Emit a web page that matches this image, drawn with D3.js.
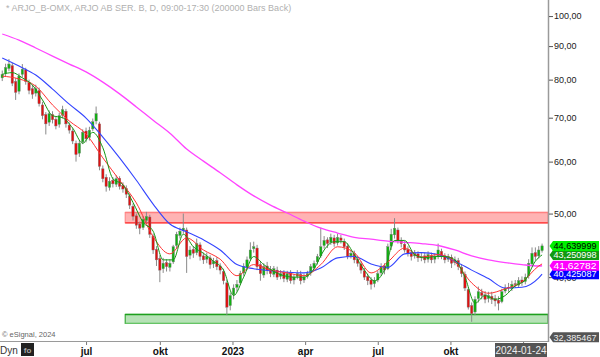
<!DOCTYPE html>
<html><head><meta charset="utf-8">
<script src="https://cdn.jsdelivr.net/npm/d3@7"></script>
<style>body{margin:0;background:#fff}svg{display:block}text{font-family:"Liberation Sans",Arial,sans-serif}</style>
</head><body><svg id="c" width="600" height="357"></svg>
<script>
// ---------- DATA ----------
const title = "* ARJO_B-OMX, ARJO AB SER. B, D, 09:00-17:30 (200000 Bars Back)";
const firstDay = new Date(2022, 2, 16), lastDay = new Date(2024, 0, 24);
const barStep = 3; // weekdays per candle

const opens = [80.5,81.8,83.2,84.0,79.5,76.8,81.5,82.8,79.2,77.5,
 76.3,77.0,73.2,70.8,68.9,70.8,69.6,68.4,70.6,71.6,
 68.2,66.8,64.0,61.8,64.3,66.8,65.3,67.3,69.2,68.5,
 58.5,56.8,54.8,56.2,55.4,56.6,55.2,54.6,53.2,51.3,
 49.6,48.2,47.6,48.8,49.4,46.2,44.1,42.7,41.2,42.1,
 41.4,42.2,44.7,46.3,47.1,47.2,43.2,44.1,43.6,44.8,
 43.1,42.6,42.8,41.9,42.4,41.6,40.8,39.2,36.2,37.6,
 38.6,39.2,40.6,41.4,42.7,44.2,44.3,41.8,40.3,41.6,
 41.1,40.4,41.0,40.1,40.6,39.7,40.6,39.6,40.1,40.4,
 39.6,40.1,40.6,41.3,42.2,43.1,44.7,45.6,45.2,45.9,
 45.1,45.9,45.3,44.6,43.1,43.4,42.6,41.9,40.9,40.1,
 39.6,39.1,39.6,40.6,41.6,41.2,44.6,46.4,47.2,45.4,
 44.9,44.1,43.6,43.1,43.4,42.9,43.1,42.6,43.1,42.6,
 43.1,43.8,43.1,42.6,42.9,42.1,42.4,41.4,40.4,38.3,
 36.2,35.4,37.1,37.9,37.6,37.1,37.4,37.1,36.9,36.7,
 38.1,38.6,38.4,39.1,38.9,39.6,39.4,40.2,41.9,43.6,
 43.1,43.9];
const highs = [82.6,84.6,86.0,84.8,80.4,81.8,84.5,83.4,80.0,78.6,
 78.6,77.8,74.0,71.4,71.8,71.6,70.2,71.2,73.0,72.2,
 68.8,67.4,64.6,64.8,67.2,67.6,67.8,69.8,72.8,69.0,
 59.2,57.4,56.8,56.8,57.2,57.0,55.8,55.2,53.6,51.8,
 50.0,48.6,49.6,50.3,49.8,46.6,44.6,43.2,42.8,42.6,
 42.6,44.8,46.9,47.6,50.0,47.6,44.6,44.6,45.8,45.2,
 43.6,43.6,43.2,42.8,42.9,42.0,41.2,39.6,37.9,39.0,
 39.6,40.9,42.0,43.0,45.2,45.3,44.8,42.2,42.0,42.2,
 41.6,41.6,41.5,41.0,41.0,40.9,41.0,40.4,41.0,40.9,
 40.5,40.9,41.9,42.4,43.4,47.6,46.2,46.0,46.6,46.4,
 46.6,46.4,45.8,45.0,44.0,43.9,43.0,42.3,41.3,40.5,
 40.0,40.0,40.9,42.0,42.0,45.0,47.4,49.2,47.6,46.0,
 45.4,44.6,44.0,44.0,43.8,43.6,43.6,43.8,43.6,43.5,
 45.0,44.2,43.5,43.4,43.3,43.0,42.8,41.9,40.8,38.6,
 36.6,37.4,38.7,38.4,38.1,38.0,38.0,37.6,37.4,38.4,
 39.0,39.2,39.5,39.6,40.0,40.1,40.5,42.6,44.4,44.4,
 44.6,45.0];
const lows = [79.6,81.0,82.4,78.2,74.5,76.0,80.6,78.6,76.0,74.8,
 75.4,72.8,69.6,66.0,68.0,68.6,67.2,67.6,69.8,67.6,
 66.2,63.8,60.0,61.0,63.8,64.2,64.6,66.8,68.4,58.2,
 55.8,54.0,54.2,54.8,54.9,54.4,53.8,52.8,50.8,48.8,
 47.4,46.5,47.2,48.2,45.9,43.4,41.6,39.3,40.6,40.8,
 40.8,41.9,44.2,45.8,46.6,40.6,42.6,42.8,43.2,42.4,
 41.9,42.0,41.2,41.3,41.0,40.4,39.0,35.0,35.6,37.0,
 38.0,38.9,40.2,41.0,42.4,43.6,41.0,39.5,39.9,40.4,
 40.0,40.0,39.6,39.7,39.3,39.3,39.1,39.0,39.7,39.0,
 39.2,39.8,40.2,40.9,41.8,42.8,44.2,44.3,44.8,44.5,
 44.7,45.0,44.0,42.6,42.7,42.0,41.5,40.5,39.6,38.9,
 38.3,38.6,39.3,40.2,40.4,41.0,44.0,45.8,45.0,44.4,
 43.6,43.0,42.4,42.7,42.2,42.3,42.0,42.1,42.0,42.0,
 42.6,42.6,42.0,42.2,41.3,41.7,41.0,40.0,38.1,35.7,
 34.2,35.0,36.6,37.0,36.5,36.6,36.4,36.1,35.6,36.5,
 37.8,38.0,38.1,38.5,38.6,38.8,39.0,39.8,41.6,42.4,
 42.7,43.6];
const closes = [81.5,83.5,84.5,79,76.5,81,83,79.5,77,76,
 77.5,73.5,70.5,68.5,71,69.5,68,70.5,72,68.5,
 67,64.5,61.5,64,66.5,65,67,69,71,59,
 56.5,55,56,55.5,56.5,55,54.5,53.5,51.5,49.5,
 48,47.5,49,49.5,46.5,44,42.5,41,42,41.5,
 42,44.5,46.5,47,47.5,43,44,43.5,45,43,
 42.5,43,41.8,42.3,41.5,41,39.5,36,37.5,38.5,
 39,40.5,41.5,42.5,44,44.5,41.5,40.5,41.5,41,
 40.5,41.2,40,40.5,39.8,40.5,39.5,40,40.5,39.5,
 40,40.5,41.5,42,43,44.5,45.5,45,46,45,
 46,45.5,44.5,43,43.5,42.5,42,41,40,39.5,
 39,39.5,40.5,41.5,41,44.5,46.5,47.5,45.5,45,
 44,43.5,43,43.5,42.8,43,42.5,43.3,42.5,43,
 44,43,42.5,43,42,42.5,41.5,40.5,38.5,36,
 35.2,37,38,37.5,37,37.5,37,36.8,36.5,38,
 38.5,38.5,39,39,39.5,39.3,40,42,43.5,43,
 44,44.64];

const ma200 = [93.9,91.9,89.4,86.9,84.5,82.2,79.3,76.1,72.7,69.4,66.3,62.7,60.1,57.7,55.3,53.2,51.5,50.1,48.7,47.5,46.7,46.0,45.7,45.4,45.2,45.0,44.7,44.0,43.1,42.5,42.1,41.8,41.6,41.63];
const ma50 = [86.3,83.9,81.3,77.4,73.4,69.9,65.4,60.8,56.2,51.7,48.2,46.9,45.6,44.0,41.8,41.2,40.9,40.7,40.6,41.3,42.8,43.0,41.9,41.4,43.4,43.6,43.3,42.3,41.0,39.8,38.5,38.6,39.9,40.43];
const ma20 = [81.0,80.2,78.2,73.2,69.2,66.1,60.8,56.2,51.9,46.1,43.4,45.9,44.0,42.6,40.2,41.8,41.0,40.6,40.2,41.8,44.5,43.6,40.6,42.2,44.3,42.9,43.3,42.2,39.2,37.8,38.4,39.3,41.6,41.9];
// short average (sampled every 3 candles, plus the last)
const ma5 = [81.5,82,80.5,78.5,74.5,70.5,70,67.5,64,66.5,63,56.5,55.3,52,48.5,47,42.5,42.5,46.5,44.5,43.5,42.3,41,37.5,40,43,41.8,40.8,40.2,40,40,41.2,44,45.3,45.3,43.3,41,39.5,41,45.5,45.5,43.3,42.8,43,43,42.5,40,36.5,37.5,37,37.5,38.8,39.6,42.3,43.25];

const yTickValues = [40,50,60,70,80,90,100];
const xTickDates = [new Date(2022,6,1),new Date(2022,9,1),new Date(2023,0,1),new Date(2023,3,1),new Date(2023,6,1),new Date(2023,9,1),new Date(2024,0,1)];
const xTickLabels = ["jul","okt","2023","apr","jul","okt",""];
const zoneLow = [48.4, 34.0], zoneHigh = [50.2, 35.1];
const zoneStart = new Date(2022,7,19);
const lastValues = [44.639999, 43.250998, 41.62782, 40.425087];
const bottomValue = 32.385467;
const lastDateText = "2024-01-24";

// ---------- CHART ----------
const svg = d3.select("#c");
const W = 548, H = 341;
svg.append("rect").attr("width",600).attr("height",357).attr("fill","#fff");

const weekdays = d3.timeDay.range(firstDay, d3.timeDay.offset(lastDay,1)).filter(d => d.getDay()%6 !== 0);
const n = closes.length;
const barDay = d3.range(n).map(i => weekdays.length-1 - barStep*(n-1-i));
const x = d3.scaleLinear().domain([0, 490.3]).range([0, W]);
const y = d3.scaleLog().domain([31.97, 105.8]).range([H, 0]);
const fmt = d3.formatLocale({decimal:",",thousands:" ",grouping:[3],currency:["",""]}).format(".2f");

const g = svg.append("g");
// zones
const zx0 = x(d3.bisectLeft(weekdays, zoneStart));
const zoneFill = ["#ffb3b3","#b6e2b6"], zoneTop=["#ff8080","#1ea01e"], zoneBot=["#ff3030","#66c466"];
zoneLow.forEach((lo,k)=>{
  const hi = zoneHigh[k];
  g.append("rect").attr("x",zx0).attr("y",y(hi)).attr("width",W-zx0).attr("height",y(lo)-y(hi))
   .attr("fill",zoneFill[k]).attr("stroke",zoneTop[k]).attr("stroke-width",1);
  g.append("line").attr("x1",zx0).attr("x2",W).attr("y1",y(hi)).attr("y2",y(hi)).attr("stroke",zoneTop[k]).attr("stroke-width",1.5);
  g.append("line").attr("x1",zx0).attr("x2",W).attr("y1",y(lo)).attr("y2",y(lo)).attr("stroke",zoneBot[k]).attr("stroke-width",1.2);
});

// candles
const cg = g.append("g");
d3.range(n).forEach(i=>{
  const cx = x(barDay[i]);
  cg.append("line").attr("x1",cx).attr("x2",cx).attr("y1",y(highs[i])).attr("y2",y(lows[i]))
    .attr("stroke","#8a8a8a").attr("stroke-width",1);
  const top = y(Math.max(opens[i],closes[i])), bot = y(Math.min(opens[i],closes[i]));
  cg.append("rect").attr("x",cx-1.2).attr("width",2.4).attr("y",top).attr("height",Math.max(1,bot-top))
    .attr("fill", closes[i]>=opens[i] ? "#10b010" : "#e01010").attr("stroke","#7a7a7a").attr("stroke-width",0.4);
});

// lines
const idx5 = d3.range(0, n-1, 5).concat([n-1]);
const idx3 = d3.range(0, n-1, 3).concat([n-1]);
const line = d3.line().x(d=>x(barDay[d[0]])).y(d=>y(d[1])).curve(d3.curveMonotoneX);
const series = [[ma200, idx5, "#ff44ff", 1.3],[ma50, idx5, "#3344ff", 1.1],[ma20, idx5, "#ff3333", 1],[ma5, idx3, "#159915", 1]];
series.forEach(([vals, idx, col, w])=>{
  g.append("path").attr("d", line(vals.map((v,k)=>[idx[k], v]))).attr("fill","none").attr("stroke",col).attr("stroke-width",w);
});

// frame
svg.append("line").attr("x1",W+0.5).attr("x2",W+0.5).attr("y1",0).attr("y2",H+1).attr("stroke","#9a9a9a").attr("stroke-width",1.5);
svg.append("line").attr("x1",0).attr("x2",W+1).attr("y1",H+0.5).attr("y2",H+0.5).attr("stroke","#9a9a9a").attr("stroke-width",1.2);

// y axis
const ya = svg.append("g").attr("transform",`translate(${W+1},0)`)
  .call(d3.axisRight(y).tickValues(yTickValues).tickFormat(fmt).tickSize(4).tickPadding(1));
ya.select(".domain").remove();
ya.selectAll(".tick line").attr("stroke","#555");
ya.selectAll("text").attr("font-size",9).attr("fill","#222").attr("font-family","Liberation Sans, Arial, sans-serif");

// x axis
const xa = svg.append("g").attr("transform",`translate(0,${H+1})`)
  .call(d3.axisBottom(x).tickValues(xTickDates.map(d=>d3.bisectLeft(weekdays,d))).tickFormat((d,i)=>xTickLabels[i]).tickSize(3).tickPadding(3));
xa.select(".domain").remove();
xa.selectAll(".tick line").attr("stroke","#777");
xa.selectAll("text").attr("font-size",10).attr("font-weight","bold").attr("fill","#111").attr("font-family","Liberation Sans, Arial, sans-serif");

// value labels
const lblFill = ["#00f000","#129912","#ff00ff","#0000ff"], lblText = ["#000","#fff","#fff","#fff"];
function tag(v, fill, tc){
  const cy = y(v);
  const gg = svg.append("g");
  gg.append("path").attr("d",`M${W+1.5},${cy} L${W+5},${cy-5} L599,${cy-5} L599,${cy+5} L${W+5},${cy+5} Z`).attr("fill",fill);
  gg.append("text").attr("x",W+5.5).attr("y",cy+3.3).attr("font-size",9).attr("textLength",43).attr("lengthAdjust","spacingAndGlyphs").attr("fill",tc).text(String(v).replace(".",","));
}
tag(bottomValue, "#555", "#eee");
[3,2,1,0].forEach(k=>tag(lastValues[k], lblFill[k], lblText[k]));

// date box
svg.append("rect").attr("x",495).attr("y",343).attr("width",52).attr("height",14).attr("fill","#555");
svg.append("text").attr("x",521).attr("y",354).attr("text-anchor","middle").attr("font-size",10).attr("fill","#eee").text(lastDateText);

// texts
svg.append("text").attr("x",6).attr("y",11).attr("font-size",9).attr("fill","#b0b0b0").text(title);
svg.append("text").attr("x",2).attr("y",337).attr("font-size",7.5).attr("fill","#666").text("© eSignal, 2024");
svg.append("text").attr("x",0).attr("y",354).attr("font-size",10).attr("fill","#333").text("Dyn");
svg.append("rect").attr("x",21).attr("y",343).attr("width",13).attr("height",13).attr("fill","#222");
svg.append("text").attr("x",27.5).attr("y",353).attr("text-anchor","middle").attr("font-size",8).attr("font-weight","bold").attr("fill","#aaa").text("fo");
</script></body></html>
